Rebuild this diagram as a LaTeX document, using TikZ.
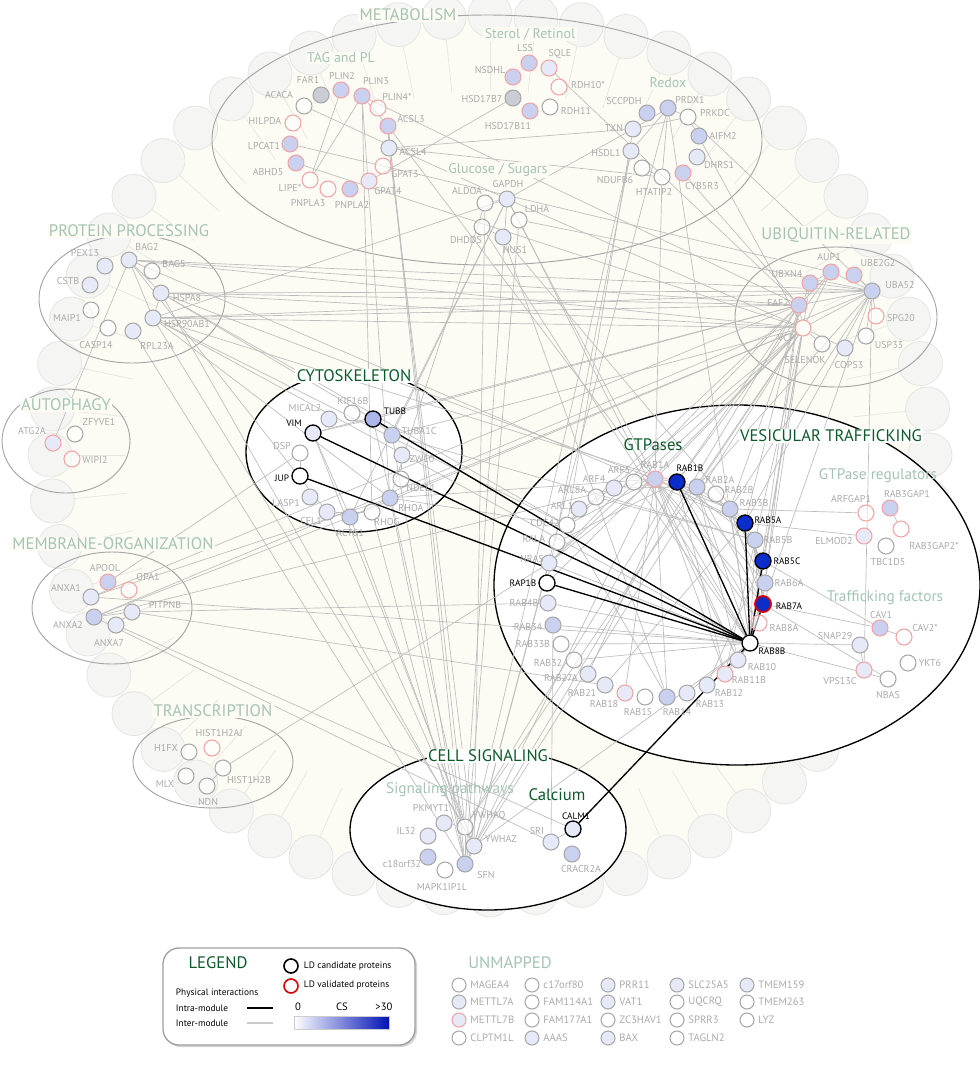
\documentclass[tikz,border=0pt]{standalone}
\usepackage{fontspec}
\setmainfont{PT Sans}
\usetikzlibrary{positioning,shadows,calc}
\pgfdeclarelayer{bg}
\pgfdeclarelayer{edges}
\pgfsetlayers{bg,edges,main}
\definecolor{ndgray}{HTML}{A8A8A8}
\definecolor{ndred}{HTML}{F2A3A3}
\definecolor{lbA}{HTML}{E6E9F7}
\definecolor{lbB}{HTML}{C9D0F0}
\definecolor{lbC}{HTML}{ABB7EA}
\definecolor{gfill}{HTML}{CACDD6}
\definecolor{strong}{HTML}{0A2DCC}
\definecolor{labgray}{HTML}{ABABAB}
\definecolor{modtxt}{HTML}{A5C4B6}
\definecolor{dgreen}{HTML}{0C5A2A}
\definecolor{edgegray}{HTML}{BDBDBD}
\definecolor{cream}{HTML}{FCFBF4}
\definecolor{ringfill}{HTML}{F5F5F3}
\definecolor{ringdraw}{HTML}{E5E5E2}
\definecolor{modline}{HTML}{A5A5A5}
\definecolor{legblue}{HTML}{0012B5}
\tikzset{
 nd/.style={circle,minimum size=12pt,inner sep=0pt,line width=0.8pt,draw=ndgray,fill=white,fill opacity=0.6},
 np/.style={nd},
 npr/.style={nd,draw=ndred},
 nbA/.style={nd,fill=lbA,fill opacity=1},
 nbB/.style={nd,fill=lbB,fill opacity=1},
 nbAr/.style={nbA,draw=ndred},
 nbBr/.style={nbB,draw=ndred},
 ngf/.style={nd,fill=gfill,fill opacity=1},
 hl/.style={circle,minimum size=12pt,inner sep=0pt,line width=1pt,draw=black,fill=#1},
 lab/.style={font=\fontsize{7.5}{8}\selectfont,text=labgray,inner sep=0.5pt},
 hlab/.style={font=\fontsize{7}{8}\selectfont,text=black,inner sep=0.5pt},
 mt/.style={font=\fontsize{12.5}{14}\selectfont,text=modtxt,fill=cream,inner sep=1pt},
 st/.style={font=\fontsize{10.5}{12}\selectfont,text=modtxt,inner sep=1pt},
 gt/.style={font=\fontsize{12.5}{14}\selectfont,text=dgreen,fill=white,inner sep=1pt},
 ge/.style={draw=edgegray,line width=0.5pt},
 be/.style={draw=black,line width=1pt},
 modell/.style={draw=modline,line width=0.7pt},
 blkell/.style={draw=black,line width=1pt,fill=white},
 legtxt/.style={font=\fontsize{7}{8}\selectfont,text=black,inner sep=0.5pt},
}
% name, x, y, style, text, label x, label y
\newcommand{\pn}[7]{\node[#4] (#1) at (#2,#3) {}; \node[lab] at (#6,#7) {#5};}
\newcommand{\hn}[7]{\node[hl=#4] (#1) at (#2,#3) {}; \node[hlab] at (#6,#7) {#5};}
\begin{document}
\begin{tikzpicture}[x=0.75pt,y=-0.75pt]
\useasboundingbox (0,0) rectangle (980,1078);
\clip (0,0) rectangle (980,1078);
\begin{pgfonlayer}{bg}
\fill[white] (0,0) rectangle (980,1078);
\fill[cream] (490,455) circle (440);
\foreach \a in {0,6,...,354} {
  \draw[ringdraw,line width=0.5pt] ($(490,455)+(\a:365)$) -- ($(490,455)+(\a:418)$);
  \draw[ringdraw,fill=ringfill,line width=0.6pt] ($(490,455)+(\a:440)$) circle (22);
}
\draw[modell] (487,140) ellipse [x radius=275, y radius=125];
\draw[modell] (132,299) ellipse [x radius=93, y radius=64];
\draw[modell] (66,441) ellipse [x radius=64, y radius=52];
\draw[modell] (836,317) ellipse [x radius=101, y radius=70];
\draw[modell] (112,608) ellipse [x radius=80, y radius=56];
\draw[modell] (213,762) ellipse [x radius=80, y radius=46];
\draw[blkell] (354,452) ellipse [x radius=108, y radius=80];
\draw[blkell] (737,585) ellipse [x radius=243, y radius=180];
\draw[blkell] (488,830) ellipse [x radius=138, y radius=80];
\end{pgfonlayer}

% ---------- METABOLISM ----------
\pn{FAR1}{321}{95}{ngf}{FAR1}{308}{80}
\pn{PLIN2}{341}{90}{nbBr}{PLIN2}{342}{76}
\pn{PLIN3}{362}{96}{nbBr}{PLIN3}{376}{81}
\pn{PLIN4s}{378}{108}{npr}{PLIN4*}{397}{97}
\pn{ACACA}{304}{106}{np}{ACACA}{279}{95}
\pn{HILPDA}{293}{123}{npr}{HILPDA}{265}{121}
\pn{LPCAT1}{290}{144}{nbBr}{LPCAT1}{264}{146}
\pn{ACSL3}{388}{126}{nbBr}{ACSL3}{411}{119}
\pn{ACSL4}{389}{148}{nbA}{ACSL4}{413}{152}
\pn{ABHD5}{296}{163}{nbBr}{ABHD5}{268}{172}
\pn{GPAT3}{383}{166}{npr}{GPAT3}{405}{174}
\pn{LIPEs}{310}{180}{npr}{LIPE*}{290}{188}
\pn{PNPLA3}{328}{189}{npr}{PNPLA3}{308}{203}
\pn{PNPLA2}{350}{189}{nbBr}{PNPLA2}{352}{205}
\pn{GPAT4}{369}{181}{nbAr}{GPAT4}{388}{191}
\pn{LSS}{529}{63}{nbBr}{LSS}{525}{48}
\pn{SQLE}{549}{68}{nbAr}{SQLE}{560}{54}
\pn{NSDHL}{513}{77}{nbBr}{NSDHL}{490}{70}
\pn{RDH10s}{559}{87}{npr}{RDH10*}{588}{85}
\pn{HSD17B7}{513}{98}{ngf}{HSD17B7}{482}{99}
\pn{RDH11}{550}{107}{np}{RDH11}{576}{111}
\pn{HSD17B11}{530}{111}{nbBr}{HSD17B11}{508}{126}
\pn{SCCPDH}{647}{113}{nbB}{SCCPDH}{624}{101}
\pn{PRDX1}{668}{108}{nbB}{PRDX1}{690}{100}
\pn{PRKDC}{688}{117}{np}{PRKDC}{715}{113}
\pn{TXN}{633}{129}{nbA}{TXN}{614}{128}
\pn{AIFM2}{699}{136}{nbB}{AIFM2}{723}{136}
\pn{HSDL1}{631}{151}{nbA}{HSDL1}{606}{153}
\pn{DHRS1}{697}{157}{nbA}{DHRS1}{719}{165}
\pn{NDUFB6}{642}{168}{np}{NDUFB6}{615}{180}
\pn{HTATIP2}{662}{177}{np}{HTATIP2}{654}{192}
\pn{CYB5R3}{683}{173}{nbBr}{CYB5R3}{702}{186}
\pn{ALDOA}{485}{203}{np}{ALDOA}{467}{191}
\pn{GAPDH}{507}{199}{nbA}{GAPDH}{508}{184}
\pn{LDHA}{519}{220}{np}{LDHA}{537}{209}
\pn{DHDDS}{482}{227}{np}{DHDDS}{466}{240}
\pn{NUS1}{503}{237}{nbA}{NUS1}{515}{250}
% ---------- PROTEIN PROCESSING ----------
\pn{PEX13}{105}{266}{nbA}{PEX13}{85}{253}
\pn{BAG2}{129}{260}{nbA}{BAG2}{147}{247}
\pn{BAG5}{152}{271}{np}{BAG5}{174}{264}
\pn{CSTB}{90}{285}{nbA}{CSTB}{68}{281}
\pn{HSPA8}{161}{293}{nbA}{HSPA8}{187}{298}
\pn{MAIP1}{91}{310}{np}{MAIP1}{67}{318}
\pn{HSP90AB1}{153}{318}{nbA}{HSP90AB1}{187}{324}
\pn{CASP14}{108}{328}{np}{CASP14}{96}{345}
\pn{RPL23A}{133}{331}{nbA}{RPL23A}{157}{346}
% ---------- AUTOPHAGY ----------
\pn{ATG2A}{53}{443}{nbAr}{ATG2A}{32}{431}
\pn{ZFYVE1}{75}{434}{np}{ZFYVE1}{99}{422}
\pn{WIPI2}{72}{459}{npr}{WIPI2}{95}{460}
% ---------- UBIQUITIN ----------
\pn{AUP1}{831}{272}{nbBr}{AUP1}{829}{257}
\pn{UBE2G2}{854}{275}{nbBr}{UBE2G2}{878}{263}
\pn{UBXN4}{810}{283}{nbBr}{UBXN4}{787}{274}
\pn{UBA52}{872}{291}{nbB}{UBA52}{900}{285}
\pn{FAF2}{799}{305}{nbBr}{FAF2}{778}{303}
\pn{SPG20}{876}{316}{npr}{SPG20}{901}{318}
\pn{VCP}{803}{328}{npr}{VCP}{786}{338}
\pn{USP33}{866}{336}{np}{USP33}{889}{345}
\pn{SELENOK}{822}{344}{np}{SELENOK}{805}{360}
\pn{COPS3}{845}{348}{nbA}{COPS3}{849}{365}
% ---------- CYTOSKELETON ----------
\pn{MICAL2}{329}{419}{nbA}{MICAL2}{305}{408}
\pn{KIF16B}{352}{413}{np}{KIF16B}{353}{401}
\hn{TUBB}{373}{419}{lbC}{TUBB}{395}{411}
\hn{VIM}{313}{433}{lbA}{VIM}{294}{423}
\pn{TUBA1C}{392}{435}{nbB}{TUBA1C}{419}{431}
\pn{DSP}{300}{453}{np}{DSP}{282}{446}
\pn{ZW10}{402}{455}{nbA}{ZW10}{422}{459}
\hn{JUP}{300}{476}{white}{JUP}{282}{478}
\pn{NDEL1}{401}{479}{np}{NDEL1}{421}{488}
\pn{LASP1}{310}{497}{nbA}{LASP1}{286}{503}
\pn{RHOA}{390}{498}{nbB}{RHOA}{411}{508}
\pn{CFL1}{327}{512}{nbA}{CFL1}{311}{521}
\pn{ACTG1}{350}{517}{nbB}{ACTG1}{350}{533}
\pn{RHOG}{372}{512}{np}{RHOG}{387}{522}
% ---------- VESICULAR TRAFFICKING ----------
\pn{RAB1A}{655}{479}{nbBr}{RAB1A}{655}{465}
\pn{ARF5}{634}{482}{np}{ARF5}{619}{470}
\pn{ARF4}{614}{488}{nbA}{ARF4}{594}{479}
\pn{ARL8A}{596}{497}{np}{ARL8A}{572}{490}
\hn{RAB1B}{677}{482}{strong}{RAB1B}{690}{468}
\pn{RAB2A}{697}{487}{nbB}{RAB2A}{720}{480}
\pn{RAB2B}{716}{494}{np}{RAB2B}{739}{490}
\pn{RAB3B}{730}{509}{nbB}{RAB3B}{754}{503}
\hn{RAB5A}{745}{523}{strong}{RAB5A}{768}{520}
\pn{RAB5B}{755}{540}{nbB}{RAB5B}{778}{540}
\hn{RAB5C}{763}{561}{strong}{RAB5C}{787}{561}
\pn{RAB6A}{765}{583}{nbB}{RAB6A}{789}{583}
\node[hl=strong,draw=red!85!black,line width=1.4pt] (RAB7A) at (763,604) {};
\node[hlab] (RAB7Al) at (789,606) {RAB7A};
\pn{RAB8A}{759}{623}{npr}{RAB8A}{784}{628}
\hn{RAB8B}{750}{643}{white}{RAB8B}{772}{651}
\pn{RAB10}{738}{660}{nbA}{RAB10}{762}{667}
\pn{RAB11B}{725}{674}{nbAr}{RAB11B}{749}{680}
\pn{RAB12}{707}{685}{nbA}{RAB12}{729}{693}
\pn{RAB13}{687}{693}{nbA}{RAB13}{710}{704}
\pn{RAB14}{667}{697}{nbB}{RAB14}{677}{712}
\pn{RAB15}{645}{697}{np}{RAB15}{638}{712}
\pn{RAB18}{625}{693}{nbAr}{RAB18}{604}{704}
\pn{RAB21}{605}{685}{nbA}{RAB21}{582}{693}
\pn{RAB27A}{588}{674}{nbA}{RAB27A}{561}{678}
\pn{RAB32}{574}{660}{np}{RAB32}{548}{663}
\pn{RAB33B}{561}{644}{np}{RAB33B}{533}{644}
\pn{RAB34}{553}{625}{nbB}{RAB34}{528}{627}
\pn{RAB4B}{548}{603}{nbA}{RAB4B}{524}{603}
\hn{RAP1B}{547}{583}{white}{RAP1B}{523}{583}
\pn{NRAS}{549}{563}{nbA}{NRAS}{532}{559}
\pn{RALA}{557}{542}{np}{RALA}{534}{539}
\pn{CDC42}{567}{525}{np}{CDC42}{545}{523}
\pn{ARL1}{579}{509}{nbA}{ARL1}{562}{506}
\pn{ARFGAP1}{866}{513}{npr}{ARFGAP1}{851}{499}
\pn{RAB3GAP1}{890}{508}{nbBr}{RAB3GAP1}{907}{494}
\pn{RAB3GAP2s}{901}{529}{npr}{RAB3GAP2*}{934}{546}
\pn{ELMOD2}{864}{536}{nbAr}{ELMOD2}{834}{541}
\pn{TBC1D5}{886}{546}{np}{TBC1D5}{888}{562}
\pn{CAV1}{880}{628}{nbBr}{CAV1}{881}{615}
\pn{CAV2s}{904}{637}{npr}{CAV2*}{925}{628}
\pn{SNAP29}{860}{645}{nbA}{SNAP29}{835}{636}
\pn{YKT6}{908}{663}{np}{YKT6}{930}{663}
\pn{VPS13C}{864}{670}{nbAr}{VPS13C}{840}{681}
\pn{NBAS}{888}{679}{np}{NBAS}{888}{695}
% ---------- MEMBRANE ----------
\pn{APOOL}{108}{582}{nbBr}{APOOL}{105}{568}
\pn{OPA1}{129}{590}{npr}{OPA1}{148}{577}
\pn{ANXA1}{91}{597}{nbA}{ANXA1}{66}{588}
\pn{PITPNB}{132}{612}{nbA}{PITPNB}{165}{605}
\pn{ANXA2}{94}{617}{nbB}{ANXA2}{68}{625}
\pn{ANXA7}{116}{625}{nbA}{ANXA7}{109}{643}
% ---------- TRANSCRIPTION ----------
\pn{HIST1H2AJ}{212}{748}{npr}{HIST1H2AJ}{219}{733}
\pn{H1FX}{189}{752}{np}{H1FX}{166}{748}
\pn{HIST1H2B}{223}{768}{np}{HIST1H2B}{249}{780}
\pn{MLX}{186}{776}{np}{MLX}{165}{784}
\pn{NDN}{207}{786}{np}{NDN}{208}{802}
% ---------- CELL SIGNALING ----------
\pn{PKMYT1}{444}{823}{nbA}{PKMYT1}{431}{808}
\pn{YWHAQ}{465}{827}{np}{YWHAQ}{489}{816}
\pn{IL32}{428}{836}{nbA}{IL32}{406}{831}
\pn{YWHAZ}{474}{846}{nbA}{YWHAZ}{501}{839}
\pn{SRI}{551}{842}{nbA}{SRI}{537}{831}
\hn{CALM1}{573}{829}{lbA}{CALM1}{576}{816}
\pn{c18orf32}{428}{857}{nbB}{c18orf32}{402}{864}
\pn{CRACR2A}{572}{854}{nbB}{CRACR2A}{581}{869}
\pn{SFN}{465}{864}{nbB}{SFN}{486}{875}
\pn{MAPK1IP1L}{445}{870}{np}{MAPK1IP1L}{442}{887}

% ---------- EDGES ----------
\begin{pgfonlayer}{edges}
\foreach \a/\b in {PLIN2/LIPEs,PLIN3/LIPEs,PLIN3/ACSL3,ACSL3/ACSL4,PLIN3/RHOA,PLIN3/RHOG,PLIN3/FAF2,ACACA/GAPDH,LPCAT1/AUP1,ABHD5/VCP,HSD17B7/GPAT4,SQLE/FAF2,ACSL4/HTATIP2,ACSL3/YWHAQ,ACSL3/SFN,ACSL4/YWHAZ,ACSL3/RAB1A,
PRDX1/TXN,PRDX1/PRKDC,TXN/PRKDC,PRDX1/HTATIP2,PRDX1/HSDL1,NDUFB6/HTATIP2,CYB5R3/FAF2,TXN/GAPDH,TXN/ACSL4,PRKDC/VCP,PRDX1/YWHAZ,HTATIP2/RAB1A,HSDL1/RAP1B,PRKDC/UBA52,TXN/CDC42,PRDX1/RAB8B,HSDL1/SFN,
ALDOA/GAPDH,GAPDH/LDHA,DHDDS/NUS1,GAPDH/ACTG1,GAPDH/TUBA1C,GAPDH/YWHAQ,GAPDH/RAB1A,LDHA/RAB10,ALDOA/RHOA,NUS1/RAB5A,DHDDS/RAB8B,GAPDH/VCP,LDHA/SFN,GAPDH/HSP90AB1,LDHA/UBA52,ALDOA/YWHAZ,NUS1/RAB14,
BAG2/HSPA8,BAG2/HSP90AB1,HSPA8/HSP90AB1,BAG2/ATG2A,BAG2/UBA52,BAG2/FAF2,HSPA8/VCP,HSPA8/UBA52,HSPA8/FAF2,HSP90AB1/VCP,HSP90AB1/UBA52,HSP90AB1/FAF2,HSP90AB1/YWHAQ,HSPA8/YWHAZ,BAG2/CFL1,RPL23A/SFN,HSP90AB1/RAB1B,HSPA8/RAB8B,HSP90AB1/RHOA,BAG2/VCP,HSPA8/CDC42,HSP90AB1/RAB8B,HSPA8/RAB1A,BAG2/RAB5A,HSP90AB1/CDC42,
AUP1/UBXN4,AUP1/UBA52,AUP1/FAF2,AUP1/VCP,UBXN4/UBA52,FAF2/UBA52,FAF2/VCP,UBA52/VCP,UBA52/SPG20,UBA52/USP33,VCP/SELENOK,VCP/COPS3,UBE2G2/UBA52,FAF2/TUBB,VCP/RAB1A,VCP/CDC42,VCP/RAB8B,FAF2/RAB5A,VCP/YWHAQ,FAF2/YWHAZ,VCP/RAP1B,UBA52/VPS13C,UBA52/RAB7A,VCP/RAB11B,FAF2/NRAS,VCP/TUBA1C,UBA52/RAB3B,FAF2/RAB1B,VCP/SFN,UBA52/ANXA2,UBXN4/VCP,FAF2/ANXA1,VCP/RHOA,UBA52/RAB2A,VCP/RAB6A,VCP/RAB2A,VCP/RAB5C,FAF2/RAB6A,UBA52/RAB5A,FAF2/CDC42,VCP/NRAS,AUP1/RAB1B,UBXN4/RAB3B,FAF2/RAB8B,VCP/ACTG1,FAF2/VIM,
VIM/TUBB,DSP/JUP,CFL1/ACTG1,CFL1/RHOG,TUBB/TUBA1C,ACTG1/RHOA,VIM/ACTG1,RHOA/RAB1A,ACTG1/YWHAQ,TUBA1C/SFN,RHOA/CDC42,VIM/YWHAZ,TUBA1C/RAB5B,RHOA/SFN,ZW10/NDEL1,CFL1/YWHAQ,
RAB1A/RAB1B,RAB1B/RAB2A,RAB1A/RAB5A,RAB1A/RAB8A,RAB1B/RAB3B,RAB1B/RAB5B,RAB1B/RAB6A,RAB2A/RAB5A,RAB2A/RAB7A,RAB3B/RAB7A,RAB5A/RAB5B,RAB5B/RAB7A,RAB5A/RAB6A,RAB2B/RAB5C,RAB3B/RAB5C,RAB5B/RAB8A,RAB6A/RAB8A,RAB1A/RAB10,RAB1A/RAB11B,RAB1B/RAB11B,RAB2A/RAB10,RAB1A/RAB8B,ARF4/RAB2A,ARL1/CDC42,CDC42/RAB1A,RALA/RAB1B,NRAS/RAB1A,NRAS/RAB8B,RAB4B/RAB8B,RAB34/RAB8B,RAB18/RAB1A,RAB14/CDC42,RAB10/RAB8B,RAB11B/RAB8B,RAB13/RAB8B,RAB21/RAB5A,RAB27A/RAB1B,RAB32/RAB8B,RAB33B/RAB8B,RAB3B/ARFGAP1,RAB5A/ELMOD2,RAB5C/CAV1,RAB7A/CAV1,RAB7A/NBAS,RAB8B/SNAP29,RAB8B/NBAS,CAV1/CAV2s,RAB3GAP1/RAB3GAP2s,SNAP29/VPS13C,RAB6A/RAB8B,RAB5B/RAB8B,RAB3B/RAB8B,RAB2A/RAB8B,ARF5/RAB8B,RAB1A/RAB7A,RAB1B/RAB8A,RAB2B/RAB6A,RAB1A/RAB3B,ARL8A/RAB5B,RAB12/RAB5C,RAB14/RAB1A,
ANXA1/RHOA,ANXA2/ACTG1,PITPNB/ANXA7,ANXA2/SRI,ANXA7/CALM1,PITPNB/RAB4B,PITPNB/RAB21,ANXA2/RAB1A,ANXA2/PITPNB,ANXA1/RAB8B,APOOL/DSP,
NDN/HIST1H2B,HIST1H2B/NRAS,
YWHAQ/SFN,YWHAZ/SFN,YWHAQ/YWHAZ,PKMYT1/YWHAQ,SRI/CALM1,SRI/RAB34,SFN/RAB1A,YWHAZ/RAB8B,YWHAQ/RAB1B,YWHAQ/TUBB,SFN/RHOG,YWHAZ/NRAS}
  \draw[ge] (\a) -- (\b);
\foreach \a in {VIM,TUBB,JUP,RAP1B,RAB1B,RAB5A,RAB5C,RAB7A,CALM1}
  \draw[be] (\a) -- (RAB8B);
\end{pgfonlayer}

% ---------- MODULE TITLES ----------
\node[mt] (tMET) at (408,15) {METABOLISM};
\node[st,fill=cream] (tTAG) at (341,58) {TAG and PL};
\node[st,fill=cream] (tSTE) at (530,34) {Sterol / Retinol};
\node[st,fill=cream] (tRED) at (668,83) {Redox};
\node[st,fill=cream] (tGLU) at (498,170) {Glucose / Sugars};
\node[mt] (tPRO) at (129,231) {PROTEIN PROCESSING};
\node[mt] (tAUT) at (66,405) {AUTOPHAGY};
\node[mt] (tUBI) at (836,235) {UBIQUITIN-RELATED};
\node[mt] (tMEM) at (113,544) {MEMBRANE-ORGANIZATION};
\node[mt] (tTRA) at (213,711) {TRANSCRIPTION};
\node[gt] (tCYT) at (354,376) {CYTOSKELETON};
\node[gt] (tVES) at (831,436) {VESICULAR TRAFFICKING};
\node[gt,fill=none] (tGTP) at (653,445) {GTPases};
\node[st,font=\fontsize{11.5}{13}\selectfont] (tREG) at (878,476) {GTPase regulators};
\node[st,font=\fontsize{11.5}{13}\selectfont] (tTRF) at (885,598) {Trafficking factors};
\node[gt] (tCEL) at (488,756) {CELL SIGNALING};
\node[st,font=\fontsize{11.5}{13}\selectfont] (tSIG) at (450,790) {Signaling pathways};
\node[gt,fill=none] (tCAL) at (557,795) {Calcium};

% ---------- LEGEND ----------
\path[draw=gray!75,line width=1pt,fill=white,rounded corners=12pt,drop shadow={opacity=0.35,shadow xshift=1.5pt,shadow yshift=-1.5pt}] (163,948) rectangle (415,1045);
\node[font=\fontsize{12.5}{14}\selectfont,text=dgreen,inner sep=0pt] (legT) at (218,963) {LEGEND};
\node[circle,draw=black,line width=1.2pt,minimum size=10.5pt,inner sep=0pt] (legC) at (291,966) {};
\node[legtxt,anchor=west] (legCt) at (303,966) {LD candidate proteins};
\node[circle,draw=red!85!black,line width=1.2pt,minimum size=10.5pt,inner sep=0pt] (legV) at (291,986) {};
\node[legtxt,anchor=west] (legVt) at (303,985) {LD validated proteins};
\node[legtxt,anchor=west] (legP) at (175,993) {Physical interactions};
\node[legtxt,anchor=west] (legI) at (175,1008) {Intra-module};
\node[legtxt,anchor=west] (legE) at (175,1023) {Inter-module};
\coordinate (li1) at (247,1008); \coordinate (li2) at (273,1008);
\coordinate (le1) at (247,1023); \coordinate (le2) at (273,1023);
\draw[black,line width=1pt] (li1) -- (li2);
\draw[edgegray!80,line width=1pt] (le1) -- (le2);
\node[legtxt,font=\fontsize{8}{9}\selectfont] (leg0) at (298,1007) {0};
\node[legtxt,font=\fontsize{8}{9}\selectfont] (legCS) at (342,1007) {CS};
\node[legtxt,font=\fontsize{8}{9}\selectfont] (leg30) at (384,1007) {>30};
\shade[left color=white,right color=legblue] (294,1016) rectangle (389,1029);
\draw[gray!40,line width=0.4pt] (294,1016) rectangle (389,1029);

% ---------- UNMAPPED ----------
\node[mt,fill=none] (tUNM) at (510,963) {UNMAPPED};
\foreach \nm/\x/\y/\s/\t in {
 U1/459/985/np/MAGEA4, U2/459/1002/nbA/METTL7A, U3/459/1020/nbAr/METTL7B, U4/459/1038/np/CLPTM1L,
 U5/532/985/np/c17orf80, U6/532/1002/np/FAM114A1, U7/532/1020/np/FAM177A1, U8/532/1038/nbA/AAAS,
 U9/608/985/nbA/PRR11, U10/608/1002/nbA/VAT1, U11/608/1020/np/ZC3HAV1, U12/608/1038/nbA/BAX,
 U13/677/985/nbA/SLC25A5, U14/677/1002/np/UQCRQ, U15/677/1020/np/SPRR3, U16/677/1038/np/TAGLN2,
 U17/747/985/nbA/TMEM159, U18/747/1002/np/TMEM263, U19/747/1020/np/LYZ}
{
 \node[\s,minimum size=10.5pt] (\nm) at (\x,\y) {};
 \node[lab,font=\fontsize{8}{9}\selectfont,anchor=west] at ($(\nm.east)+(3,0)$) {\t};
}
\end{tikzpicture}
\end{document}
